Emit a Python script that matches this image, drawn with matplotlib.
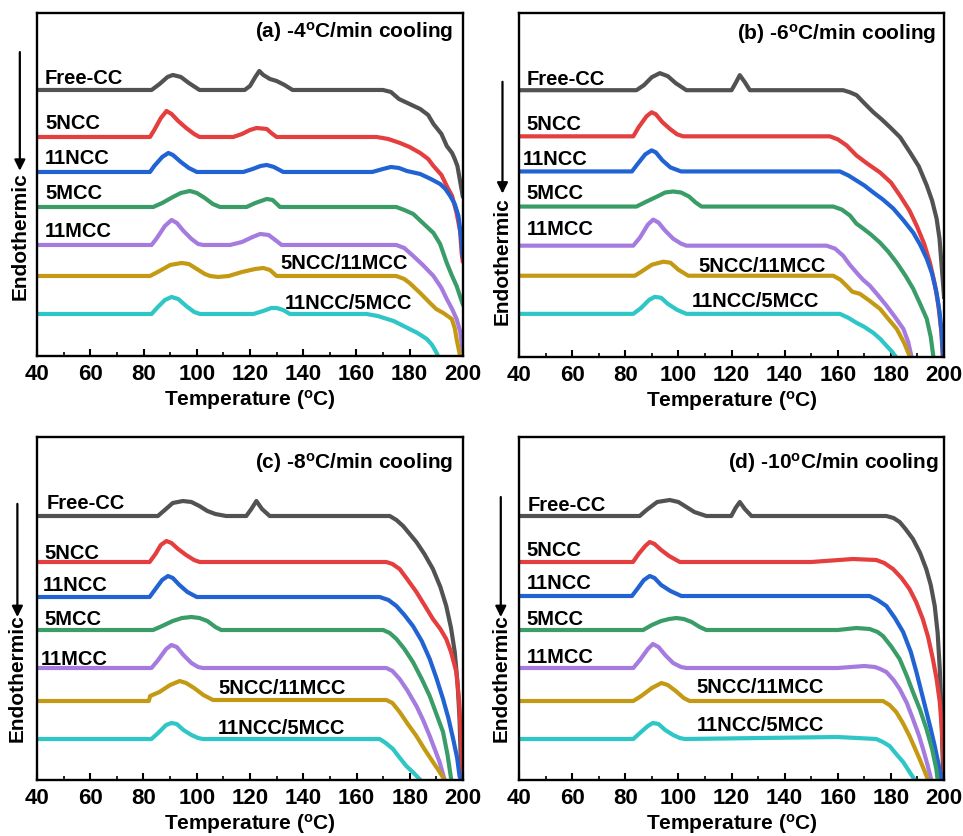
import matplotlib
matplotlib.use("Agg")
import matplotlib.pyplot as plt
from matplotlib.ticker import MultipleLocator

plt.rcParams['font.family'] = ['Liberation Sans', 'DejaVu Sans']
plt.rcParams['font.weight'] = 'bold'
plt.rcParams['mathtext.fontset'] = 'custom'
plt.rcParams['mathtext.rm'] = 'Liberation Sans:bold'
plt.rcParams['mathtext.bf'] = 'Liberation Sans:bold'
plt.rcParams['mathtext.default'] = 'rm'

names = ['Free-CC', '5NCC', '11NCC', '5MCC', '11MCC', '5NCC/11MCC', '11NCC/5MCC']
colors = ['#525252', '#e53e3e', '#2163d3', '#3a9d68', '#a57bdf', '#c49a14', '#2ec6c6']
rates = ['-4', '-6', '-8', '-10']

# heat flow traces (temperature, signal in arbitrary units)
# panel (a) -4 C/min
a_free_t = [40, 83, 86, 89, 91, 94, 97, 101, 118, 120, 122, 123.5, 125, 127.5, 130, 133, 136, 170, 173, 176, 180, 184, 187, 189, 192, 194, 196, 197, 198, 199, 200]
a_free_y = [266, 266, 272, 279, 281, 279, 273, 266, 266, 270, 279, 285, 281, 277, 275, 271, 266, 266, 264, 257, 252, 247, 241, 232, 222, 210, 203, 197, 190, 175, 160]
a_5ncc_t = [40, 82.4, 84, 86.5, 88.6, 90.5, 93, 96, 99, 101, 113.7, 117, 120, 122.5, 126.3, 128, 130, 167.6, 172, 176.4, 180, 184, 187, 189, 192, 194, 196, 197.7, 199, 199.6, 200]
a_5ncc_y = [219, 219, 226, 238, 245, 242, 235, 228, 222, 219, 219, 222, 226, 228, 227, 223, 219, 219, 217, 213, 209, 203, 197, 190, 181, 170, 160, 143, 125, 103, 95]
a_11ncc_t = [40, 82.4, 84, 87, 89.3, 91, 94, 97, 100, 117.5, 121, 124, 126.3, 129, 132.5, 166, 170, 173, 176, 179, 184, 188, 191.5, 193.5, 195.3, 197, 198.4, 199.3, 200]
a_11ncc_y = [184, 184, 190, 199, 203, 201, 194, 188, 184, 184, 187, 190, 191, 189, 184, 184, 187, 189, 188, 185, 182, 177, 172, 167, 160, 152, 140, 120, 100]
a_5mcc_t = [40, 83.6, 87, 91, 94, 97.4, 100, 103, 106, 108.7, 118.7, 122, 126.3, 128.5, 131.3, 175, 178, 181.4, 185, 189, 191.5, 194, 196, 197.7, 199.6, 200]
a_5mcc_y = [149, 149, 153, 159, 163, 165, 163, 158, 152, 149, 149, 153, 157, 156, 149, 149, 146, 142, 133, 123, 112, 93, 80, 70, 55, 52]
a_11mcc_t = [40, 83, 85, 88, 90.5, 92.5, 95, 98, 100.5, 102.4, 112.5, 117, 121, 123.8, 127, 129.5, 131.9, 175, 178, 181.4, 185, 189, 192, 194, 196, 197.7, 199, 199.6, 200]
a_11mcc_y = [111, 111, 118, 130, 136, 133, 125, 117, 112, 111, 111, 114, 119, 122, 121, 116, 111, 111, 108, 100, 91, 80, 68, 57, 47, 37, 25, 13, 5]
a_mix1_t = [40, 82.4, 86, 90, 94.3, 97, 100, 103, 105, 108, 112, 117, 122, 125, 127.5, 130, 175, 178, 180, 184, 187.7, 190, 192.7, 195.9, 197, 197.7, 199, 200]
a_mix1_y = [80, 80, 85, 91, 93, 92, 87, 82, 80, 79, 80, 84, 87, 88, 86, 80, 80, 77, 73, 63, 53, 47, 43, 37, 28, 17, 0, -10]
a_mix2_t = [40, 83, 85, 88, 90.5, 93, 96, 99, 101.2, 121.3, 125, 128, 130, 132.5, 135, 163.8, 168, 174, 180, 183, 186.5, 188.5, 190.2, 191.5]
a_mix2_y = [42, 42, 48, 56, 59, 57, 50, 44, 42, 42, 45, 48, 48, 46, 42, 42, 40, 35, 27, 23, 17, 11, 3, -5]

# panel (b) -6 C/min
b_free_t = [40, 84.2, 87, 90, 93, 96, 99, 103, 120, 121.5, 123.1, 125, 126.9, 162, 164.5, 167.1, 170, 173.4, 176.5, 179.7, 183.5, 187.2, 190.5, 193.5, 195.5, 197.2, 198.3, 199.1, 200]
b_free_y = [266, 266, 271, 279, 283, 280, 273, 266, 266, 273, 281, 274, 266, 266, 264, 261, 253, 244, 237, 229, 219, 204, 190, 171, 156, 138, 118, 91, 60]
b_5ncc_t = [40, 83, 85, 88, 89.9, 91.5, 94, 97, 99.5, 101.8, 157, 160, 163.3, 167, 171, 175.9, 180, 183.4, 187, 189.7, 192.5, 194.7, 196.5, 197.9, 199, 199.5]
b_5ncc_y = [220, 220, 229, 240, 244, 242, 234, 227, 222, 220, 220, 217, 211, 201, 193, 184, 174, 161, 146, 131, 113, 94, 73, 51, 25, 0]
b_11ncc_t = [40, 82.5, 84.5, 87.5, 89.9, 91.5, 94, 97, 101, 160.8, 164, 167, 170, 173.4, 177, 180.9, 184.5, 188.4, 191, 193.5, 195.5, 197.2, 198.3, 199.1, 199.7]
b_11ncc_y = [185, 185, 192, 202, 206, 204, 196, 189, 185, 185, 181, 176, 171, 164, 157, 148, 137, 124, 112, 98, 83, 64, 45, 24, 0]
b_5mcc_t = [40, 84.2, 88, 92, 95, 98, 101, 104, 106.5, 108.7, 158.3, 161.5, 164.6, 167, 169.6, 172.5, 175.9, 179, 182.2, 185.5, 188.4, 191, 193.5, 195, 196]
b_5mcc_y = [150, 150, 155, 160, 164, 165, 164, 160, 154, 150, 150, 147, 141, 133, 128, 122, 114, 105, 94, 81, 68, 53, 38, 20, 0]
b_11mcc_t = [40, 83, 85.5, 88.5, 90.5, 92.5, 95, 98, 101, 103, 155.8, 159, 162, 164.5, 167.1, 169.5, 172.1, 175, 178.4, 181.5, 184.7, 186.5, 187.8]
b_11mcc_y = [111, 111, 119, 132, 137, 134, 126, 118, 113, 111, 111, 108, 101, 92, 84, 77, 71, 62, 51, 40, 28, 15, 0]
b_mix1_t = [40, 83.6, 86, 90, 94.3, 97, 100, 103.7, 158.3, 161, 163.3, 165.5, 168.3, 172, 175.9, 179, 182.2, 185, 187.2]
b_mix1_y = [81, 81, 85, 92, 95, 94, 87, 81, 81, 77, 71, 65, 63, 56, 48, 38, 28, 14, 0]
b_mix2_t = [40, 83, 86, 89, 91.1, 93.5, 96, 99.5, 103, 160.8, 164, 167.1, 170, 173.4, 176, 178.4, 180.5, 181.9]
b_mix2_y = [43, 43, 49, 57, 60, 59, 53, 47, 43, 43, 39, 34, 30, 24, 18, 11, 5, 0]

# panel (c) -8 C/min
c_free_t = [40, 85.4, 88, 91, 94.8, 98, 101, 104, 107, 111, 118.6, 120.5, 122.4, 124.5, 127.4, 172.5, 175, 177.5, 180, 182.5, 185.5, 188.7, 191.5, 193.7, 195.5, 196.9, 198, 198.7, 199.4]
c_free_y = [264, 264, 270, 277, 279, 278, 274, 269, 266, 264, 264, 271, 279, 271, 264, 264, 260, 254, 246, 238, 226, 211, 193, 174, 152, 128, 95, 61, 0]
c_5ncc_t = [40, 82.3, 84.5, 86.5, 88.6, 90.5, 93, 96, 99, 101.1, 171.2, 173.5, 176.2, 179, 182.5, 185.5, 188.7, 191.5, 193.7, 195.5, 197.5, 198.5, 199.4, 199.8]
c_5ncc_y = [218, 218, 226, 235, 239, 237, 231, 225, 220, 218, 218, 216, 211, 201, 188, 175, 161, 151, 141, 128, 108, 80, 34, 0]
c_11ncc_t = [40, 82.3, 84.5, 87, 89.2, 91, 93.5, 96.5, 100, 168.7, 172, 175, 178, 181.2, 184.5, 187.5, 190, 192.5, 194.5, 196.3, 197.8, 198.7, 199.2]
c_11ncc_y = [183, 183, 191, 200, 204, 202, 195, 188, 183, 183, 180, 174, 165, 154, 139, 121, 102, 81, 62, 41, 22, 4, 0]
c_5mcc_t = [40, 83.6, 87, 91, 94.5, 98, 101, 104, 107, 109.2, 170, 172.5, 175, 178, 181.2, 184.5, 187.5, 190, 192.5, 194.2, 195.6]
c_5mcc_y = [150, 150, 154, 159, 162, 163, 162, 159, 153, 150, 150, 147, 141, 131, 118, 101, 84, 66, 48, 25, 0]
c_11mcc_t = [40, 83, 85.5, 88.5, 90.5, 92.5, 95, 98, 100.5, 102.3, 171.2, 173.5, 176.2, 179, 182.5, 185, 187.5, 189.5, 191.2, 193.1]
c_11mcc_y = [112, 112, 120, 131, 135, 133, 125, 117, 113, 112, 112, 109, 101, 90, 74, 60, 44, 30, 18, 0]
c_mix1_t = [40, 82, 82.5, 86, 90, 93.6, 96, 99, 102.5, 106.1, 171.2, 173.5, 176.2, 179, 182.5, 185.5, 188.7, 191, 193.1]
c_mix1_y = [79, 79, 84, 88, 95, 99, 97, 92, 85, 80, 80, 77, 68, 57, 44, 31, 18, 9, 0]
c_mix2_t = [40, 83, 85.5, 88.5, 90.5, 92.5, 95, 98, 100.5, 102.3, 168.7, 171, 173.7, 176, 178.7, 181.5, 184]
c_mix2_y = [41, 41, 47, 55, 57, 56, 50, 45, 42, 41, 41, 37, 31, 23, 14, 7, 0]

# panel (d) -10 C/min
d_free_t = [40, 85.4, 88, 92, 96.7, 100, 103, 106, 110.5, 119.9, 121.5, 123.1, 125, 127.5, 178.3, 181, 183.3, 185.5, 188.3, 191, 193.3, 195, 196.5, 197.6, 198.4, 199, 199.4, 199.8]
d_free_y = [264, 264, 270, 278, 280, 278, 273, 268, 264, 264, 272, 278, 271, 264, 264, 262, 258, 251, 241, 227, 211, 195, 174, 147, 111, 70, 28, 0]
d_5ncc_t = [40, 82.9, 85, 87.5, 89.2, 91, 93.5, 96.5, 100.5, 150, 165.7, 174.5, 177.5, 180.8, 184, 187, 189.5, 192, 194, 195.8, 197.2, 198.4, 199.2, 199.6, 200]
d_5ncc_y = [218, 218, 226, 234, 238, 236, 230, 224, 218, 218, 221, 220, 217, 211, 202, 191, 178, 161, 143, 121, 101, 78, 50, 28, 10]
d_11ncc_t = [40, 82.5, 84.5, 87, 89.2, 91, 93.5, 97, 101.1, 172, 175, 178.3, 181.5, 184.6, 187.5, 189.6, 191.5, 193.4, 195, 196.5, 198, 199]
d_11ncc_y = [184, 184, 191, 200, 204, 202, 195, 189, 184, 184, 180, 174, 162, 148, 128, 108, 88, 68, 51, 34, 15, 0]
d_5mcc_t = [40, 86.7, 90, 93.5, 96.5, 99.2, 102, 105, 108, 110.5, 160, 167, 172, 175, 177, 180, 183.3, 186, 188.3, 191, 193.4, 195.5, 197.1, 197.6]
d_5mcc_y = [150, 150, 155, 159, 161, 162, 161, 158, 153, 150, 150, 152, 151, 148, 144, 134, 121, 104, 88, 70, 51, 31, 11, 0]
d_11mcc_t = [40, 83, 85.5, 88.5, 90.4, 92.5, 95, 98, 101, 103, 160, 170, 174, 176, 178.3, 181, 183.3, 186, 188.3, 190.5, 192.1, 193.8, 195.2]
d_11mcc_y = [112, 112, 120, 131, 136, 133, 125, 117, 113, 112, 112, 114, 113, 111, 108, 100, 91, 77, 61, 45, 31, 15, 0]
d_mix1_t = [40, 83, 86, 90, 93.6, 96, 99, 102, 104.2, 177, 179.5, 182, 184.5, 187, 189, 190.8, 192.5, 194]
d_mix1_y = [79, 79, 84, 92, 97, 95, 89, 82, 79, 79, 75, 68, 57, 44, 32, 21, 10, 0]
d_mix2_t = [40, 83, 85.5, 88.5, 90.4, 92.5, 95, 98, 100.5, 102.4, 160, 174.5, 177, 179.5, 182, 184.6, 186.8, 189]
d_mix2_y = [41, 41, 47, 54, 57, 56, 50, 45, 42, 41, 43, 41, 38, 34, 26, 18, 9, 0]

panels = [
    [(a_free_t, a_free_y), (a_5ncc_t, a_5ncc_y), (a_11ncc_t, a_11ncc_y), (a_5mcc_t, a_5mcc_y),
     (a_11mcc_t, a_11mcc_y), (a_mix1_t, a_mix1_y), (a_mix2_t, a_mix2_y)],
    [(b_free_t, b_free_y), (b_5ncc_t, b_5ncc_y), (b_11ncc_t, b_11ncc_y), (b_5mcc_t, b_5mcc_y),
     (b_11mcc_t, b_11mcc_y), (b_mix1_t, b_mix1_y), (b_mix2_t, b_mix2_y)],
    [(c_free_t, c_free_y), (c_5ncc_t, c_5ncc_y), (c_11ncc_t, c_11ncc_y), (c_5mcc_t, c_5mcc_y),
     (c_11mcc_t, c_11mcc_y), (c_mix1_t, c_mix1_y), (c_mix2_t, c_mix2_y)],
    [(d_free_t, d_free_y), (d_5ncc_t, d_5ncc_y), (d_11ncc_t, d_11ncc_y), (d_5mcc_t, d_5mcc_y),
     (d_11mcc_t, d_11mcc_y), (d_mix1_t, d_mix1_y), (d_mix2_t, d_mix2_y)],
]

# layout: where the curve names sit (left edge, centre) in each panel
label_pos = [
    [(42.9, 278), (42.9, 233), (42.9, 198), (42.9, 163), (42.9, 125), (131.3, 93), (133.2, 53)],
    [(42.8, 278), (42.8, 233), (41.5, 198), (42.8, 164), (42.8, 128), (107.4, 91), (104.9, 56)],
    [(43.5, 278), (42.9, 228), (42.3, 196), (42.9, 162), (41.6, 122), (108, 93), (108, 53)],
    [(43.4, 276), (42.8, 231), (42.8, 198), (42.8, 162), (42.8, 124), (106.8, 94), (106.8, 56)],
]
axes_rect = [
    [0.0387, 0.5735, 0.4418, 0.4098],
    [0.5390, 0.5723, 0.4413, 0.4110],
    [0.0384, 0.0669, 0.4424, 0.4098],
    [0.5390, 0.0669, 0.4413, 0.4098],
]
title_xy = [(0.978, 0.947), (0.981, 0.942), (0.977, 0.927), (0.988, 0.927)]
# arrow x, arrow top, arrow tip, label centre (axes fraction)
arrow_pos = [(-0.041, 0.886, 0.540, 0.351),
             (-0.039, 0.800, 0.475, 0.282),
             (-0.046, 0.805, 0.475, 0.300),
             (-0.043, 0.825, 0.475, 0.300)]
tags = ['(a)', '(b)', '(c)', '(d)']

fig = plt.figure(figsize=(9.63, 8.37), dpi=100)

for i in range(4):
    ax = fig.add_axes(axes_rect[i])
    for (t, y), c in zip(panels[i], colors):
        ax.plot(t, y, color=c, lw=3.0, solid_joinstyle='round')
    for name, (lx, ly) in zip(names, label_pos[i]):
        ax.text(lx, ly, name, fontsize=14.5, fontweight='bold', ha='left', va='center')

    ax.set_xlim(40, 200)
    ax.set_ylim(0, 343)
    ax.xaxis.set_major_locator(MultipleLocator(20))
    ax.xaxis.set_minor_locator(MultipleLocator(10))
    ax.set_yticks([])
    ax.tick_params(axis='x', which='major', direction='in', length=5, width=1.5,
                   labelsize=16, pad=5)
    ax.tick_params(axis='x', which='minor', direction='in', length=3, width=1.2)
    for lab in ax.get_xticklabels():
        lab.set_fontweight('bold')
    for s in ax.spines.values():
        s.set_linewidth(1.7)

    ax.set_xlabel('Temperature ($^{o}$C)', fontsize=15, fontweight='bold', labelpad=2)
    ax_x, a_top, a_tip, lab_y = arrow_pos[i]
    ax.text(ax_x, lab_y, 'Endothermic', transform=ax.transAxes, rotation=90,
            fontsize=15, fontweight='bold', ha='center', va='center')
    ax.annotate('', xy=(ax_x, a_tip), xytext=(ax_x, a_top), xycoords='axes fraction',
                arrowprops=dict(arrowstyle='-|>', color='black', lw=1.6,
                                mutation_scale=16, shrinkA=0, shrinkB=0),
                annotation_clip=False)

    tx, ty = title_xy[i]
    ax.text(tx, ty, tags[i] + ' ' + rates[i] + '$^{o}$C/min cooling', transform=ax.transAxes,
            fontsize=15, fontweight='bold', ha='right', va='center')

fig.savefig('out.png', dpi=100)
